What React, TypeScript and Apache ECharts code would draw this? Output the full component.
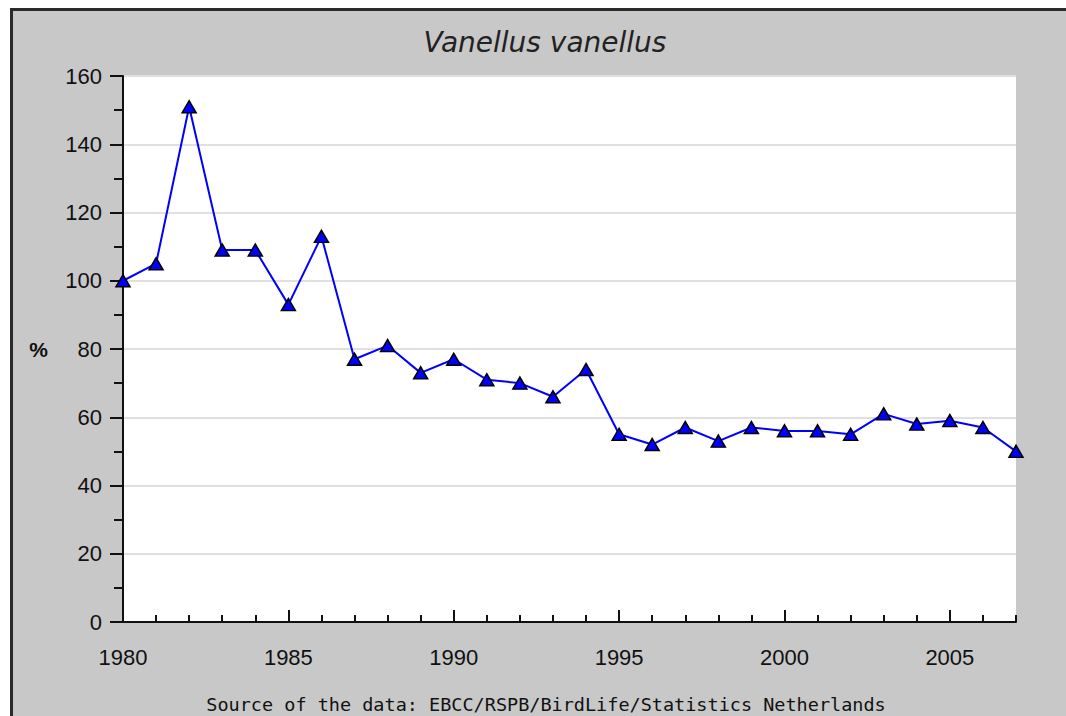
import React, { useEffect, useRef } from "react";
import * as echarts from "echarts";

const years = [
  1980, 1981, 1982, 1983, 1984, 1985, 1986, 1987, 1988, 1989, 1990, 1991, 1992, 1993,
  1994, 1995, 1996, 1997, 1998, 1999, 2000, 2001, 2002, 2003, 2004, 2005, 2006, 2007,
];
const values = [
  100, 105, 151, 109, 109, 93, 113, 77, 81, 73, 77, 71, 70, 66,
  74, 55, 52, 57, 53, 57, 56, 56, 55, 61, 58, 59, 57, 50,
];
const majorYears = [1980, 1985, 1990, 1995, 2000, 2005];
const titleText = "Vanellus vanellus";
const yName = "%";
const sourceText = "Source of the data: EBCC/RSPB/BirdLife/Statistics Netherlands";

export default function App() {
  const ref = useRef<HTMLDivElement>(null);
  useEffect(() => {
    if (!ref.current) return;
    const chart = echarts.init(ref.current, undefined, { renderer: "svg" });
    const labelFont = { fontFamily: "Liberation Sans", fontSize: 22, color: "#111" };
    chart.setOption({
      animation: false,
      backgroundColor: "#c8c8c8",
      graphic: [
        { type: "rect", shape: { x: 0, y: 0, width: 1066, height: 8 }, style: { fill: "#fff" } },
        { type: "rect", shape: { x: 0, y: 0, width: 10, height: 716 }, style: { fill: "#fff" } },
        { type: "line", shape: { x1: 10, y1: 9.5, x2: 1066, y2: 9.5 }, style: { stroke: "#2a2a2a", lineWidth: 3 } },
        { type: "line", shape: { x1: 11.5, y1: 8, x2: 11.5, y2: 716 }, style: { stroke: "#2a2a2a", lineWidth: 3 } },
        {
          type: "text",
          x: 545,
          y: 42,
          style: {
            text: titleText,
            font: "italic 28px 'DejaVu Sans'",
            fill: "#222",
            textAlign: "center",
            textVerticalAlign: "middle",
          },
        },
        {
          type: "text",
          x: 546,
          y: 704,
          style: {
            text: sourceText,
            font: "18.5px 'DejaVu Sans Mono'",
            fill: "#111",
            textAlign: "center",
            textVerticalAlign: "middle",
          },
        },
      ],
      grid: {
        left: 123,
        top: 76,
        right: 50,
        bottom: 94,
        show: true,
        backgroundColor: "#ffffff",
        borderWidth: 0,
      },
      xAxis: [
        {
          type: "value",
          min: 1980,
          max: 2007,
          interval: 5,
          axisLine: { show: true, onZero: false, lineStyle: { color: "#111", width: 2 } },
          axisTick: {
            show: true,
            inside: true,
            length: 12,
            customValues: majorYears,
            lineStyle: { color: "#111", width: 2 },
          },
          axisLabel: {
            ...labelFont,
            margin: 24,
            customValues: majorYears,
            formatter: (v: number) => String(v),
          },
          splitLine: { show: false },
        },
        {
          type: "value",
          min: 1980,
          max: 2007,
          interval: 1,
          position: "bottom",
          axisLine: { show: false },
          axisTick: { show: true, inside: true, length: 7, lineStyle: { color: "#111", width: 2 } },
          axisLabel: { show: false },
          splitLine: { show: false },
        },
      ],
      yAxis: {
        type: "value",
        min: 0,
        max: 160,
        interval: 20,
        name: yName,
        nameLocation: "middle",
        nameRotate: 0,
        nameGap: 75,
        nameTextStyle: { fontFamily: "Liberation Sans", fontWeight: "bold", fontSize: 21, color: "#111" },
        axisLine: { show: true, lineStyle: { color: "#111", width: 2 } },
        axisTick: { show: true, inside: false, length: 13, lineStyle: { color: "#111", width: 2 } },
        minorTick: { show: true, splitNumber: 2, length: 9, lineStyle: { color: "#111", width: 2 } },
        axisLabel: { ...labelFont, margin: 21 },
        splitLine: { show: true, lineStyle: { color: "#e0e0e0", width: 2 } },
      },
      series: [
        {
          type: "line",
          xAxisIndex: 0,
          data: years.map((y, i) => [y, values[i]]),
          symbol: "triangle",
          symbolSize: [14, 12],
          showAllSymbol: true,
          lineStyle: { color: "#0000ff", width: 2 },
          itemStyle: { color: "#0000ff", borderColor: "#000", borderWidth: 1.5 },
          z: 5,
        },
      ],
    });
    return () => chart.dispose();
  }, []);
  return (
    <div
      ref={ref}
      style={{ position: "fixed", left: 0, top: 0, width: 1066, height: 716 }}
    />
  );
}
